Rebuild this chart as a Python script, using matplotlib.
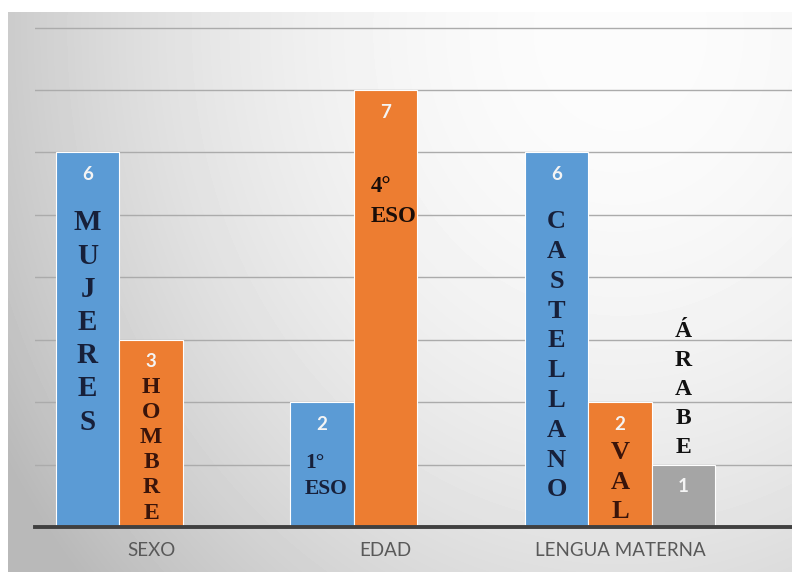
import numpy as np
import matplotlib.pyplot as plt

# datos
categorias = ['SEXO', 'EDAD', 'LENGUA MATERNA']
serie_azul = [6, 2, 6]              # Mujeres, 1° ESO, Castellano
serie_naranja = [3, 7, 2]           # Hombre, 4° ESO, Val
serie_gris = [np.nan, np.nan, 1]    # Árabe

series = [serie_azul, serie_naranja, serie_gris]
colores = ['#5b9bd5', '#ed7d31', '#a5a5a5']
desplaz = [-0.271, 0.0, 0.271]
ancho = 0.271

# textos dentro de las barras: (serie, categoria, lineas, y inicial, paso px, ha, dx px, tamaño, color)
rotulos = [
    (0, 0, list('MUJERES'), 4.87, 33.2, 'center', 0, 21, '#17203a'),
    (1, 0, list('HOMBRE'), 2.24, 25.2, 'center', 0, 17, '#3a140a'),
    (0, 1, ['1°', 'ESO'], 1.03, 26, 'left', -17, 15.5, '#17203a'),
    (1, 1, ['4°', 'ESO'], 5.45, 30, 'left', -15, 16.5, '#1a0d08'),
    (0, 2, list('CASTELLANO'), 4.89, 29.8, 'center', 0, 19, '#17203a'),
    (1, 2, list('VAL'), 1.19, 29.5, 'center', 0, 19, '#3a140a'),
    (2, 2, list('ÁRABE'), 3.13, 29.0, 'center', 0, 17, '#111111'),
]

fig = plt.figure(figsize=(7.92, 5.72), dpi=100)

# fondo degradado
bg = fig.add_axes([8 / 792, 0, 784 / 792, 560 / 572], zorder=-1)
yy, xx = np.mgrid[0:560, 8:792]
yy = yy + 12
d2 = ((xx - 620) / 650.0) ** 2 + ((yy - 30) / 750.0) ** 2
gris = np.clip(252 - 55 * d2, 185, 255) / 255.0
bg.imshow(gris, cmap='gray', vmin=0, vmax=1, aspect='auto', interpolation='bilinear')
bg.axis('off')

ax = fig.add_axes([35 / 792, 1 - 527 / 572, 1 - 35 / 792, 515 / 572])
ax.patch.set_alpha(0)
x = np.arange(len(categorias))

for s, (vals, col) in enumerate(zip(series, colores)):
    pos = x + desplaz[s]
    ax.bar(pos, vals, width=ancho, color=col, edgecolor='white', linewidth=0.8, zorder=2)
    for px, v in zip(pos, vals):
        if np.isnan(v):
            continue
        ax.annotate(str(v), xy=(px, v), xytext=(0, -22), textcoords='offset pixels',
                    ha='center', va='center', color='#f4f4f4', fontsize=13.5,
                    fontweight='bold', family='Lato', zorder=3)

for s, c, lineas, y0, paso, ha, dx, fs, col in rotulos:
    xc = x[c] + desplaz[s]
    for i, t in enumerate(lineas):
        ax.annotate(t, xy=(xc, y0), xytext=(dx, -i * paso), textcoords='offset pixels',
                    ha=ha, va='center', fontsize=fs, fontweight='bold', color=col,
                    family='Liberation Serif', zorder=4)

ax.set_xlim(-0.495, 2.733)
ax.set_ylim(0, 8.25)
ax.set_yticks(range(1, 9))
ax.yaxis.grid(True, color='#ababab', linewidth=1.0)
ax.set_axisbelow(True)
ax.tick_params(axis='y', length=0, labelleft=False)
ax.set_xticks(x)
ax.set_xticklabels(categorias, fontsize=13.5, color='#595959', family='Lato')
ax.tick_params(axis='x', length=0, pad=11)
for lado in ['top', 'right', 'left']:
    ax.spines[lado].set_visible(False)
ax.spines['bottom'].set_color('#404040')
ax.spines['bottom'].set_linewidth(2.8)
ax.spines['bottom'].set_zorder(5)

fig.savefig('out.png', dpi=100)
